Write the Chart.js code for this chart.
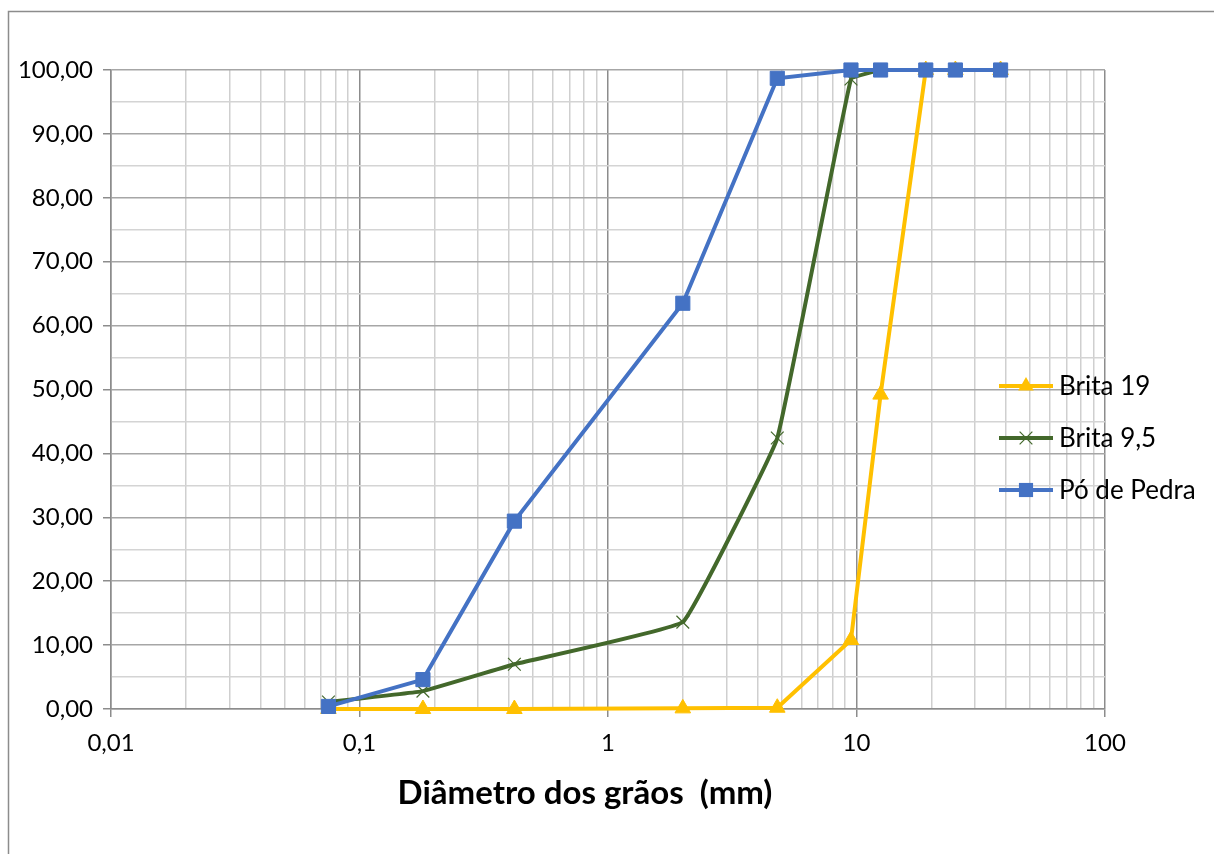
<!DOCTYPE html>
<html>
<head>
<meta charset="utf-8">
<script src="https://cdn.jsdelivr.net/npm/chart.js@4"></script>
<style>
  html, body { margin: 0; padding: 0; background: #fff; }
  #wrap { width: 1214px; height: 854px; position: relative; }
</style>
</head>
<body>
<div id="wrap"><canvas id="chart" width="1214" height="854"></canvas></div>
<script>
// sieve openings (mm) and % passing
const sieves = [0.075, 0.18, 0.42, 2.0, 4.8, 9.5, 12.5, 19, 25, 38];
const brita19 = [0, 0, 0, 0.1, 0.2, 10.8, 49.2, 100, 100, 100];
const brita95 = [1.1, 2.8, 7.0, 13.6, 42.4, 98.6, 100, 100, 100, 100];
const poPedra = [0.4, 4.6, 29.4, 63.5, 98.7, 100, 100, 100, 100, 100];

const seriesNames = ["Brita 19", "Brita 9,5", "Pó de Pedra"];
const xTicks = [0.01, 0.1, 1, 10, 100];
const yTicks = [0, 10, 20, 30, 40, 50, 60, 70, 80, 90, 100];

const FONT = "Lato, 'Open Sans', sans-serif";

const toPoints = (vals) => sieves.map((d, i) => ({ x: d, y: vals[i] }));

// minor gridline values inside each decade
const xGrid = [];
for (let e = -2; e < 2; e++) {
  for (let m = 1; m < 10; m++) xGrid.push(m * Math.pow(10, e));
}
xGrid.push(100);
const isDecade = (v) => xTicks.some((t) => Math.abs(t - v) < t * 1e-6);

function drawMarker(ctx, style, r, x, y) {
  ctx.beginPath();
  if (style === "rect") {
    const s = Math.SQRT1_2 * r;
    ctx.rect(x - s, y - s, 2 * s, 2 * s);
    ctx.fill();
  } else if (style === "triangle") {
    ctx.moveTo(x, y - r);
    ctx.lineTo(x + r * 0.866, y + r * 0.5);
    ctx.lineTo(x - r * 0.866, y + r * 0.5);
    ctx.closePath();
    ctx.fill();
  } else {
    const s = Math.SQRT1_2 * r;
    ctx.moveTo(x - s, y - s); ctx.lineTo(x + s, y + s);
    ctx.moveTo(x + s, y - s); ctx.lineTo(x - s, y + s);
    ctx.stroke();
  }
}

// legend drawn over the plot, like the original
const overlayLegend = {
  id: "overlayLegend",
  afterDraw(chart) {
    const ctx = chart.ctx;
    const rows = [386, 438, 490];
    ctx.save();
    rows.forEach((y, di) => {
      const ds = chart.data.datasets[di];
      ctx.strokeStyle = ds.borderColor;
      ctx.lineWidth = 4;
      ctx.lineCap = "butt";
      ctx.beginPath();
      ctx.moveTo(999, y);
      ctx.lineTo(1053, y);
      ctx.stroke();
      ctx.fillStyle = ds.pointBackgroundColor;
      ctx.strokeStyle = ds.pointBorderColor;
      ctx.lineWidth = ds.pointBorderWidth;
      drawMarker(ctx, ds.pointStyle, ds.pointRadius, 1026, y);
      ctx.fillStyle = "#000";
      ctx.font = "26px " + FONT;
      ctx.textAlign = "left";
      ctx.textBaseline = "middle";
      ctx.fillText(seriesNames[di], 1059, y + 1);
    });
    ctx.restore();
  }
};

// axis title and outer frame
const decorations = {
  id: "decorations",
  afterDraw(chart) {
    const ctx = chart.ctx;
    ctx.save();
    ctx.fillStyle = "#000";
    ctx.font = "bold 33px " + FONT;
    ctx.textAlign = "center";
    ctx.textBaseline = "middle";
    ctx.fillText("Diâmetro dos grãos  (mm)", 585, 793);
    ctx.strokeStyle = "#8c8c8c";
    ctx.lineWidth = 1.5;
    ctx.beginPath();
    ctx.moveTo(8.5, 860);
    ctx.lineTo(8.5, 11.5);
    ctx.lineTo(1220, 11.5);
    ctx.stroke();
    ctx.restore();
  }
};

new Chart(document.getElementById("chart"), {
  type: "line",
  data: {
    datasets: [
      {
        label: seriesNames[0],
        data: toPoints(brita19),
        borderColor: "#FFC000",
        backgroundColor: "#FFC000",
        pointBackgroundColor: "#FFC000",
        pointBorderColor: "#FFC000",
        borderWidth: 4,
        pointStyle: "triangle",
        pointRadius: 9,
        pointBorderWidth: 1,
        tension: 0,
        order: 3
      },
      {
        label: seriesNames[1],
        data: toPoints(brita95),
        borderColor: "#43682B",
        backgroundColor: "#43682B",
        pointBackgroundColor: "#43682B",
        pointBorderColor: "#43682B",
        borderWidth: 4,
        pointStyle: "crossRot",
        pointRadius: 9,
        pointBorderWidth: 1.2,
        tension: 0.07,
        order: 2
      },
      {
        label: seriesNames[2],
        data: toPoints(poPedra),
        borderColor: "#4472C4",
        backgroundColor: "#4472C4",
        pointBackgroundColor: "#4472C4",
        pointBorderColor: "#4472C4",
        borderWidth: 4,
        pointStyle: "rect",
        pointRadius: 10,
        pointBorderWidth: 1,
        tension: 0,
        order: 1
      }
    ]
  },
  options: {
    responsive: false,
    animation: false,
    clip: false,
    layout: { padding: { top: 70, right: 109, left: 0, bottom: 0 } },
    plugins: {
      legend: { display: false },
      tooltip: { enabled: false },
      title: { display: false }
    },
    scales: {
      x: {
        type: "logarithmic",
        min: 0.01,
        max: 100,
        afterFit(scale) { scale.height = 145; },
        afterBuildTicks(scale) {
          scale.ticks = xGrid.map((v) => ({ value: v }));
        },
        ticks: {
          autoSkip: false,
          maxRotation: 0,
          padding: 12,
          color: "#000",
          font: { family: FONT, size: 24 },
          callback: (v) => (isDecade(v) ? String(v).replace(".", ",") : "")
        },
        grid: {
          color: (c) => (isDecade(c.tick.value) ? "#8c8c8c" : "#cfcfcf"),
          tickColor: (c) => (isDecade(c.tick.value) ? "#8c8c8c" : "rgba(0,0,0,0)"),
          lineWidth: 1.5,
          tickLength: 8
        },
        border: { display: true, color: "#8c8c8c", width: 1.5 }
      },
      y: {
        min: 0,
        max: 100,
        afterFit(scale) { scale.width = 111; },
        afterBuildTicks(scale) {
          const t = [];
          for (let v = 0; v <= 100; v += 5) t.push({ value: v });
          scale.ticks = t;
        },
        ticks: {
          autoSkip: false,
          padding: 10,
          color: "#000",
          font: { family: FONT, size: 24 },
          callback: (v) => (yTicks.includes(v) ? v.toFixed(2).replace(".", ",") : "")
        },
        grid: {
          color: (c) => (c.tick.value % 10 === 0 ? "#a6a6a6" : "#d4d4d4"),
          tickColor: (c) => (c.tick.value % 10 === 0 ? "#8c8c8c" : "rgba(0,0,0,0)"),
          lineWidth: 1.5,
          tickLength: 8
        },
        border: { display: true, color: "#8c8c8c", width: 1.5 }
      }
    }
  },
  plugins: [overlayLegend, decorations]
});
</script>
</body>
</html>
